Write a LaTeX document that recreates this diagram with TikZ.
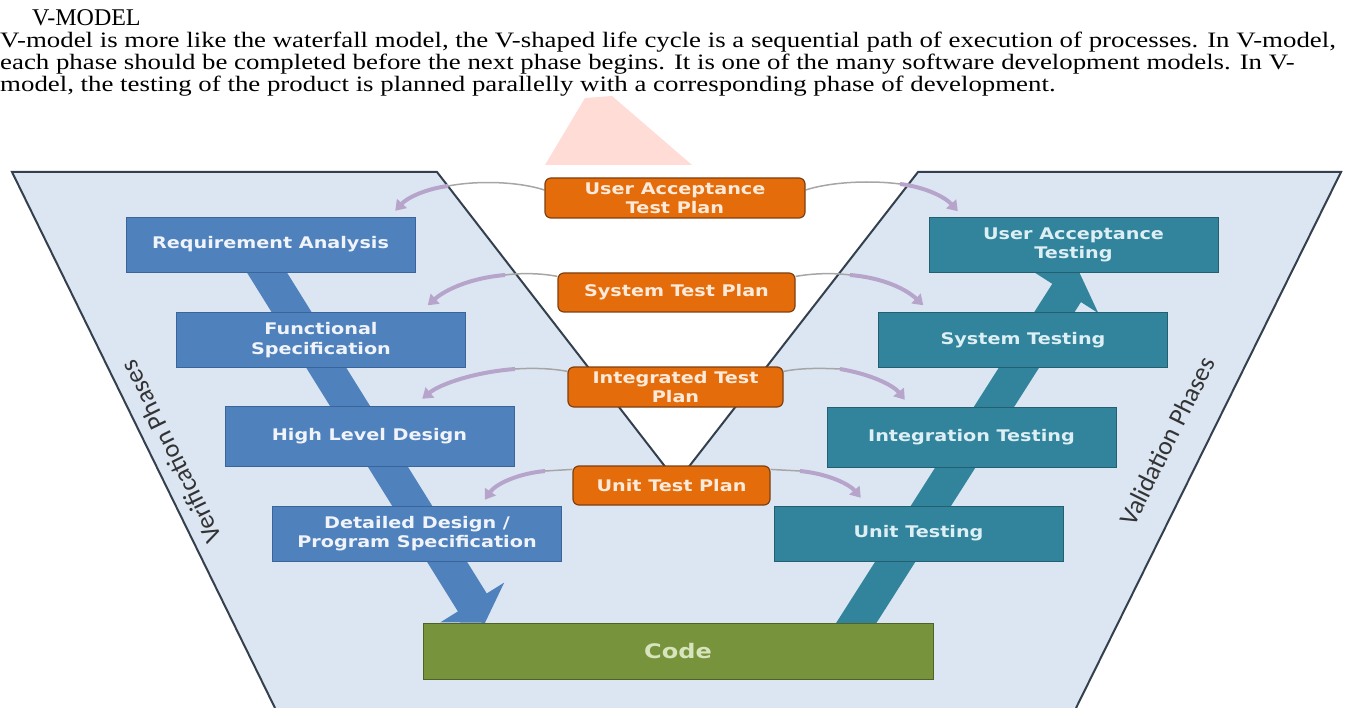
\documentclass[tikz,border=0pt]{standalone}
\usepackage{fontspec}
\setmainfont{Liberation Serif}[FakeStretch=1.22]
\newfontfamily\headfont{Liberation Serif}
\newfontfamily\boxfont[FakeStretch=1.2]{DejaVu Sans}
\newfontfamily\sidefont{Carlito}
\usetikzlibrary{arrows.meta}
\pgfdeclarelayer{back}
\pgfdeclarelayer{mid}
\pgfsetlayers{back,mid,main}
\definecolor{vpanel}{HTML}{DCE6F2}
\definecolor{vedge}{HTML}{34404E}
\definecolor{vblue}{HTML}{4F81BD}
\definecolor{vblueline}{HTML}{3A659A}
\definecolor{vbluetext}{HTML}{F0F4FA}
\definecolor{vteal}{HTML}{31849B}
\definecolor{vtealline}{HTML}{245F70}
\definecolor{vtealtext}{HTML}{DDEFF5}
\definecolor{vgreen}{HTML}{77933C}
\definecolor{vgreenline}{HTML}{4F6228}
\definecolor{vgreentext}{HTML}{D7E4BD}
\definecolor{vorange}{HTML}{E46C0A}
\definecolor{vorangeline}{HTML}{7F3F0F}
\definecolor{vorangetext}{HTML}{FDEADA}
\definecolor{vlilac}{HTML}{B7A4CB}
\definecolor{vgrey}{HTML}{A6A6A6}
\definecolor{vmark}{HTML}{FFDCD5}
\begin{document}
\begin{tikzpicture}[x=1pt,y=-1pt,
  phase/.style={draw=vblueline,fill=vblue,text=vbluetext,minimum width=289pt,minimum height=55pt,inner sep=0pt,align=center,font=\boxfont\bfseries\fontsize{16}{19.5}\selectfont},
  test/.style={phase,draw=vtealline,fill=vteal,text=vtealtext},
  plan/.style={draw=vorangeline,fill=vorange,text=vorangetext,rounded corners=6pt,line width=1.2pt,inner sep=0pt,align=center,font=\boxfont\bfseries\fontsize{16}{19}\selectfont},
  side/.style={font=\sidefont\fontsize{26}{26}\selectfont,text=black!80},
  prose/.style={anchor=base west,inner sep=0pt,font=\fontsize{22}{22}\selectfont},
  band/.style={line width=34pt,-{Triangle[width=74pt,length=24pt]}},
  link/.style={vgrey,line width=1.5pt},
  feed/.style={vlilac,line width=4pt,-{Triangle[width=13pt,length=10pt]}}]
\useasboundingbox (0,0) rectangle (1346,708);
\begin{pgfonlayer}{back}
\fill[vmark] (545,165) -- (692,165) -- (612,96) -- (585,98) -- cycle;
\fill[vpanel] (275,708) -- (12,172) -- (437,172) -- (677,482) -- (918,172) -- (1341,172) -- (1076,708) -- cycle;
\draw[vedge,line width=2pt] (275,708) -- (12,172) -- (437,172) -- (677,482) -- (918,172) -- (1341,172) -- (1076,708);
\end{pgfonlayer}
\node[prose,font=\headfont\fontsize{24}{24}\selectfont] (title) at (32,26) {V-MODEL};
\node[prose] (line1) at (0,48) {V-model is more like the waterfall model, the V-shaped life cycle is a sequential path of execution of processes. In V-model,};
\node[prose] (line2) at (0,70) {each phase should be completed before the next phase begins. It is one of the many software development models. In V-};
\node[prose] (line3) at (0,92) {model, the testing of the product is planned parallelly with a corresponding phase of development.};
\node[phase] (ra) at (270.5,244.5) {Requirement Analysis};
\node[phase] (fs) at (321,340) {Functional\\Specification};
\node[phase,minimum height=60pt] (hld) at (369.5,436) {High Level Design};
\node[phase] (dd) at (417,533.5) {Detailed Design /\\Program Specification};
\node[test] (uat) at (1073.5,245) {User Acceptance\\Testing};
\node[test] (st) at (1023,340) {System Testing};
\node[test,minimum height=60pt] (it) at (971.5,437) {Integration Testing};
\node[test] (ut) at (918.5,533.5) {Unit Testing};
\node[draw=vgreenline,fill=vgreen,text=vgreentext,minimum width=510pt,minimum height=56pt,inner sep=0pt,font=\boxfont\bfseries\fontsize{20}{20}\selectfont] (code) at (678,651) {Code};
\node[plan,minimum width=260pt,minimum height=40pt] (uatp) at (675,198) {User Acceptance\\Test Plan};
\node[plan,minimum width=237pt,minimum height=39pt] (stp) at (676.5,292.5) {System Test Plan};
\node[plan,minimum width=215pt,minimum height=40pt] (itp) at (675.5,387) {Integrated Test\\Plan};
\node[plan,minimum width=197pt,minimum height=39pt] (utp) at (671.5,485.5) {Unit Test Plan};
\node[side,rotate=116] (verif) at (171,452) {Verification Phases};
\node[side,rotate=63.7] (valid) at (1167,441) {Validation Phases};
\begin{pgfonlayer}{mid}
\draw[band,vblue] ([xshift=-21pt]ra.center) -- ([xshift=-193pt]code.north);
\draw[band,vteal] ([xshift=172pt,yshift=-10pt]code.north) -- ([xshift=6pt]uat.south);
\draw[link] ([yshift=8pt]uatp.west) .. controls (520,182) and (480,180) .. (448,186);
\draw[feed] (448,186) .. controls (425,189) and (407,198) .. ([xshift=-20pt,yshift=6pt]ra.north east);
\draw[link] ([yshift=8pt]uatp.east) .. controls (830,182) and (870,180) .. (900,184);
\draw[feed] (900,184) .. controls (925,187) and (945,197) .. ([xshift=29pt,yshift=6pt]uat.north west);
\draw[link] ([yshift=-4pt]stp.north west) .. controls (540,273) and (520,273) .. (505,275);
\draw[feed] (505,275) .. controls (470,278) and (445,290) .. ([xshift=-38pt,yshift=7pt]fs.north east);
\draw[link] ([yshift=-4pt]stp.north east) .. controls (815,273) and (835,273) .. (850,275);
\draw[feed] (850,275) .. controls (885,278) and (907,290) .. ([xshift=45pt,yshift=7pt]st.north west);
\draw[link] ([yshift=-5pt]itp.north west) .. controls (550,368) and (530,368) .. (515,369);
\draw[feed] (515,369) .. controls (475,372) and (440,384) .. ([xshift=-92pt,yshift=7pt]hld.north east);
\draw[link] ([yshift=-5pt]itp.north east) .. controls (800,368) and (820,368) .. (840,369);
\draw[feed] (840,369) .. controls (870,374) and (893,385) .. ([xshift=78pt,yshift=7pt]it.north west);
\draw[link] ([yshift=-4pt]utp.north west) -- (545,471);
\draw[feed] (545,471) .. controls (515,474) and (495,485) .. ([xshift=-77pt,yshift=6pt]dd.north east);
\draw[link] ([yshift=-4pt]utp.north east) -- (800,471);
\draw[feed] (800,471) .. controls (830,474) and (850,485) .. ([xshift=87pt,yshift=8pt]ut.north west);
\end{pgfonlayer}
\end{tikzpicture}
\end{document}
